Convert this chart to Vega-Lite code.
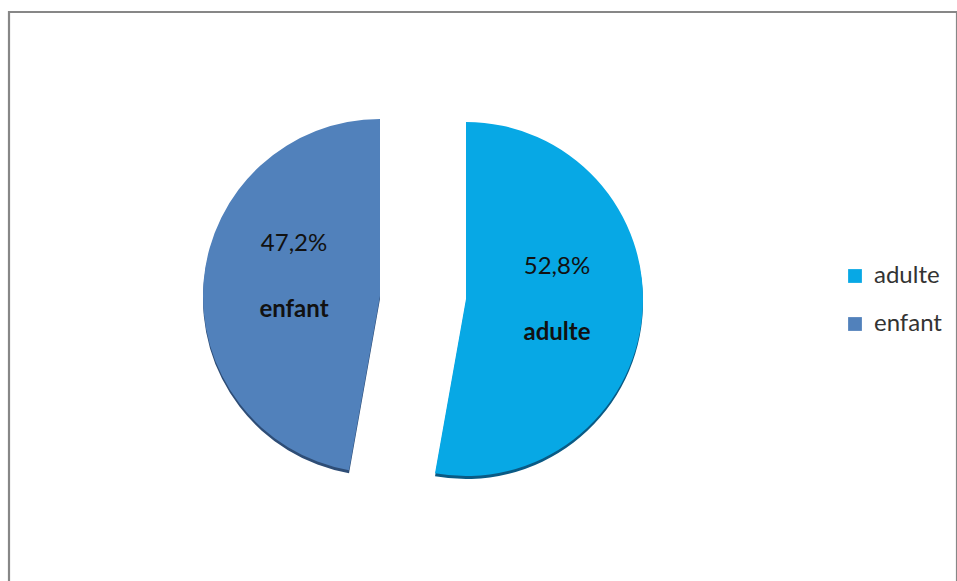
{
  "$schema": "https://vega.github.io/schema/vega-lite/v6.json",
  "autosize": "none",
  "width": 948,
  "height": 600,
  "padding": {"left": 9, "top": 12, "right": 0, "bottom": 0},
  "background": "white",
  "view": {"stroke": "#878787", "strokeWidth": 2.2, "fill": "white"},
  "config": {
    "font": "Lato",
    "locale": {"number": {"decimal": ",", "thousands": " ", "grouping": [3], "currency": ["", " €"]}}
  },
  "data": {"values": [
    {"cat": "adulte", "share": 0.528},
    {"cat": "enfant", "share": 0.472}
  ]},
  "encoding": {
    "theta": {"field": "share", "type": "quantitative", "stack": true},
    "order": {"field": "cat", "type": "ordinal", "sort": "ascending"}
  },
  "layer": [
    {
      "mark": {"type": "arc", "radius": 177, "xOffset": -103, "yOffset": -13, "fill": "#2e4d76"},
      "encoding": {
        "detail": {"field": "cat", "type": "nominal"},
        "opacity": {"condition": {"test": "datum.cat === 'enfant'", "value": 1}, "value": 0}
      }
    },
    {
      "mark": {"type": "arc", "radius": 177, "xOffset": -17, "yOffset": -10, "fill": "#0a5a84"},
      "encoding": {
        "detail": {"field": "cat", "type": "nominal"},
        "opacity": {"condition": {"test": "datum.cat === 'adulte'", "value": 1}, "value": 0}
      }
    },
    {
      "mark": {"type": "arc", "radius": 177, "xOffset": -103, "yOffset": -16},
      "encoding": {
        "color": {"field": "cat", "type": "nominal", "scale": {"domain": ["adulte", "enfant"], "range": ["#07a8e5", "#5181bb"]},
          "legend": {"title": null, "orient": "none", "legendX": 834, "legendY": 252, "symbolType": "square", "symbolSize": 190, "symbolStrokeWidth": 0, "labelFontSize": 24, "labelFont": "Lato", "labelColor": "#333333", "labelOffset": 7, "rowPadding": 24, "padding": 0}},
        "opacity": {"condition": {"test": "datum.cat === 'enfant'", "value": 1}, "value": 0}
      }
    },
    {
      "mark": {"type": "arc", "radius": 177, "xOffset": -17, "yOffset": -13},
      "encoding": {
        "color": {"field": "cat", "type": "nominal", "scale": {"domain": ["adulte", "enfant"], "range": ["#07a8e5", "#5181bb"]}},
        "opacity": {"condition": {"test": "datum.cat === 'adulte'", "value": 1}, "value": 0}
      }
    },
    {
      "mark": {"type": "text", "radius": 132, "xOffset": -57.5, "yOffset": -15.5, "dy": -41, "fontSize": 24, "font": "Lato", "color": "#111111"},
      "encoding": {
        "detail": {"field": "cat", "type": "nominal"},
        "text": {"field": "share", "type": "quantitative", "format": ".1%"}
      }
    },
    {
      "mark": {"type": "text", "radius": 132, "xOffset": -57.5, "yOffset": -15.5, "dy": 25, "fontSize": 24, "fontWeight": "bold", "font": "Lato", "color": "#111111"},
      "encoding": {
        "detail": {"field": "cat", "type": "nominal"},
        "text": {"field": "cat", "type": "nominal"}
      }
    }
  ]
}
